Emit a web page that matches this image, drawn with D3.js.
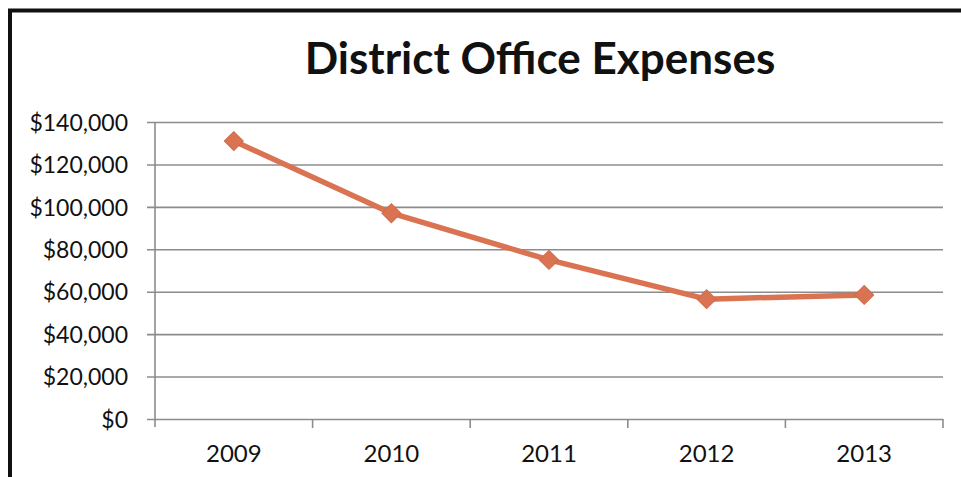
<!DOCTYPE html>
<html>
<head>
<meta charset="utf-8">
<script src="https://cdn.jsdelivr.net/npm/d3@7"></script>
<style>
  html, body { margin: 0; padding: 0; background: #fff; }
  svg { display: block; }
</style>
</head>
<body>
<svg id="chart" width="961" height="477"></svg>
<script>
// Yearly district office spending
const years = ["2009", "2010", "2011", "2012", "2013"];
const expenses = [131000, 97000, 75000, 56500, 58500];
const yTicks = [0, 20000, 40000, 60000, 80000, 100000, 120000, 140000];
const chartTitle = "District Office Expenses";

const svg = d3.select("#chart");
const W = 961, H = 477;
const margin = { left: 155, right: 18, top: 122, bottom: 58 };
const font = "Lato, 'Open Sans', sans-serif";

// outer frame (left and top edges visible)
svg.append("path")
  .attr("d", `M10,${H + 5} L10,10.5 L${W + 5},10.5`)
  .attr("fill", "none")
  .attr("stroke", "#111")
  .attr("stroke-width", 4);

svg.append("text")
  .attr("x", 540)
  .attr("y", 74)
  .attr("text-anchor", "middle")
  .attr("font-family", font)
  .attr("font-weight", "bold")
  .attr("font-size", 44)
  .attr("fill", "#111")
  .text(chartTitle);

const x = d3.scaleBand()
  .domain(years)
  .range([margin.left, W - margin.right])
  .paddingInner(0).paddingOuter(0);

const y = d3.scaleLinear()
  .domain([0, 140000])
  .range([H - margin.bottom, margin.top]);

const gridColor = "#8c8c8c";

// horizontal gridlines with left-side tick marks
const yAxis = d3.axisLeft(y)
  .tickValues(yTicks)
  .tickSize(-(W - margin.right - margin.left))
  .tickSizeOuter(0)
  .tickFormat(d => "$" + d3.format(",")(d));

const gy = svg.append("g")
  .attr("transform", `translate(${margin.left},0)`)
  .call(yAxis);
gy.select(".domain").remove();
gy.selectAll(".tick line")
  .attr("x1", -8)
  .attr("stroke", gridColor)
  .attr("stroke-width", 1.6);
gy.selectAll(".tick text")
  .attr("x", -27)
  .attr("dy", "0.36em")
  .attr("font-family", font)
  .attr("font-size", 23)
  .attr("fill", "#111");

// vertical axis line
svg.append("line")
  .attr("x1", margin.left).attr("x2", margin.left)
  .attr("y1", y(140000)).attr("y2", y(0) + 8)
  .attr("stroke", gridColor)
  .attr("stroke-width", 1.6);

// category axis with boundary tick marks
const gx = svg.append("g")
  .attr("transform", `translate(0,${y(0)})`)
  .call(d3.axisBottom(x).tickSize(0).tickSizeOuter(0));
gx.select(".domain").remove();
gx.selectAll(".tick text")
  .attr("dy", 0)
  .attr("y", 43)
  .attr("font-family", font)
  .attr("font-size", 24)
  .attr("fill", "#111");

const boundaries = years.map(d => x(d)).concat([x(years[years.length - 1]) + x.bandwidth()]);
svg.append("g").selectAll("line")
  .data(boundaries.slice(1))
  .join("line")
  .attr("x1", d => d).attr("x2", d => d)
  .attr("y1", y(0)).attr("y2", y(0) + 9)
  .attr("stroke", gridColor)
  .attr("stroke-width", 1.6);

// data line
const lineColor = "#da7352";
const line = d3.line()
  .x((d, i) => x(years[i]) + x.bandwidth() / 2)
  .y(d => y(d));

svg.append("path")
  .datum(expenses)
  .attr("d", line)
  .attr("fill", "none")
  .attr("stroke", lineColor)
  .attr("stroke-width", 5.5)
  .attr("stroke-linejoin", "round");

svg.append("g").selectAll("path")
  .data(expenses)
  .join("path")
  .attr("d", d3.symbol().type(d3.symbolSquare).size(180))
  .attr("transform", (d, i) => `translate(${x(years[i]) + x.bandwidth() / 2},${y(d)}) rotate(45)`)
  .attr("fill", lineColor)
  .attr("stroke", "#d06a4a")
  .attr("stroke-width", 1);
</script>
</body>
</html>
